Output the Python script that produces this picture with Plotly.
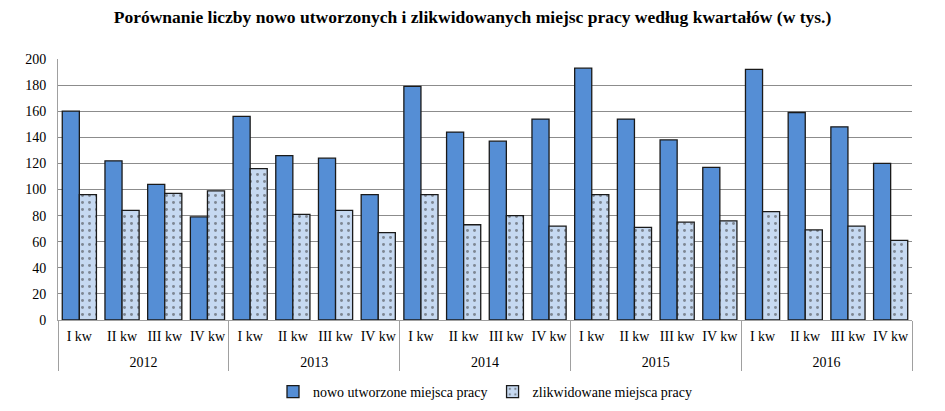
import plotly.graph_objects as go

years = ["2012", "2013", "2014", "2015", "2016"]
quarters = ["I kw", "II kw", "III kw", "IV kw"]
created = [160, 122, 104, 79,
           156, 126, 124, 96,
           179, 144, 137, 154,
           193, 154, 138, 117,
           192, 159, 148, 120]
liquidated = [96, 84, 97, 99,
              116, 81, 84, 67,
              96, 73, 80, 72,
              96, 71, 75, 76,
              83, 69, 72, 61]
series_names = ["nowo utworzone miejsca pracy", "zlikwidowane miejsca pracy"]
title = "Porównanie liczby nowo utworzonych i zlikwidowanych miejsc pracy według kwartałów (w tys.)"

# unique category keys (year + quarter), shown with the quarter label only
keys = [f"{y} {q}" for y in years for q in quarters]
key_text = [q for _ in years for q in quarters]
nq = len(quarters)
ny = len(years)

FONT = "Liberation Serif"
GRID = "#8c8c8c"
AX = "#a0a0a0"

fig = go.Figure()
fig.add_trace(go.Bar(
    x=keys, y=created, name=series_names[0],
    marker=dict(color="#558ed5", line=dict(color="#1a1a1a", width=1.3)),
))
fig.add_trace(go.Bar(
    x=keys, y=liquidated, name=series_names[1],
    marker=dict(color="#c6d9f1", line=dict(color="#1a1a1a", width=1.3),
                pattern=dict(shape=".", fgcolor="#333333", bgcolor="#c6d9f1",
                             size=7, solidity=0.14)),
))
# empty helper trace so the year axis is drawn
fig.add_trace(go.Scatter(x=[], y=[], xaxis="x2", yaxis="y", showlegend=False,
                         hoverinfo="skip"))

fig.update_layout(
    width=945, height=411,
    margin=dict(l=58, r=33, t=59, b=91, autoexpand=False),
    paper_bgcolor="white", plot_bgcolor="white",
    barmode="group", bargap=0.2, bargroupgap=0,
    font=dict(family=FONT, size=14, color="#000000"),
    title=dict(text="<b>" + title + "</b>", x=0.5, xanchor="center",
               y=1 - 17 / 411, yanchor="middle",
               font=dict(family=FONT, size=17.5, color="#000000")),
    legend=dict(orientation="h", x=0.5, xanchor="center", y=-72 / 261, yanchor="middle",
                font=dict(family=FONT, size=14), traceorder="normal",
                itemwidth=30),
    showlegend=True,
    xaxis=dict(
        type="category", categoryorder="array", categoryarray=keys,
        tickvals=keys, ticktext=key_text, tickangle=0,
        range=[-0.5, len(keys) - 0.5],
        showline=True, linecolor=AX, linewidth=1, ticks="",
        automargin=False, tickfont=dict(family=FONT, size=14),
        ticklabelstandoff=3,
    ),
    xaxis2=dict(
        overlaying="x", anchor="y", side="bottom",
        range=[0, ny], tickvals=[i + 0.5 for i in range(ny)], ticktext=years,
        ticks="", showgrid=False, zeroline=False, showline=False,
        automargin=False, tickfont=dict(family=FONT, size=14), tickangle=0,
        ticklabelstandoff=32,
        minor=dict(tickvals=list(range(ny + 1)), ticks="outside", ticklen=50,
                   tickcolor=AX, tickwidth=1, showgrid=False),
    ),
    yaxis=dict(
        range=[0, 200], dtick=20, showgrid=True, gridcolor=GRID, gridwidth=1,
        showline=True, linecolor=AX, linewidth=1, automargin=False,
        tickfont=dict(family=FONT, size=14), ticks="", zeroline=False,
        ticklabelstandoff=8,
    ),
)

fig.write_html("out.html", config={"displayModeBar": False},
               post_script="document.body.style.margin='0';")
